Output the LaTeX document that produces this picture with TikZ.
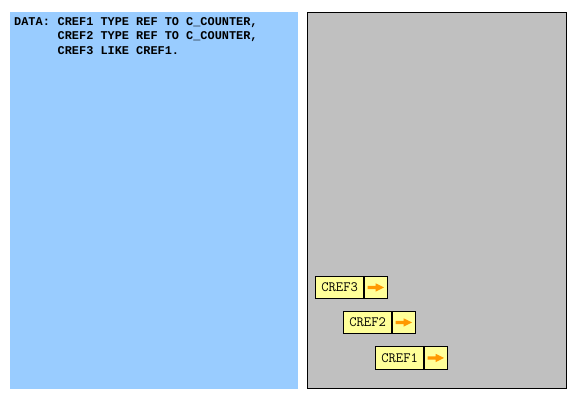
\documentclass[tikz,border=0pt]{standalone}
\usepackage{fontspec}
\newfontfamily\codefont{Liberation Mono}
\definecolor{panelblue}{HTML}{99CCFF}
\definecolor{panelgray}{HTML}{C0C0C0}
\definecolor{refyellow}{HTML}{FFFF99}
\definecolor{arroworange}{HTML}{FF9900}
\tikzset{
  codetext/.style={anchor=base west, inner sep=0,
    font=\codefont\bfseries\fontsize{11.9}{14.5}\selectfont},
  namecell/.style={draw=black, fill=refyellow, line width=0.8pt, inner sep=0,
    minimum width=47.6, minimum height=22.5, anchor=north west,
    font=\ttfamily\fontsize{14.2}{16}\selectfont},
  ptrcell/.style={draw=black, fill=refyellow, line width=0.8pt, inner sep=0,
    minimum width=23.6, minimum height=22.5, anchor=north west},
  ptrarrow/.style={fill=arroworange}
}
\begin{document}
\begin{tikzpicture}[x=1pt,y=-1pt]
\useasboundingbox (0,0) rectangle (573,400);
% panels
\fill[panelblue] (10,12) rectangle (298,389);
\filldraw[fill=panelgray, draw=black, line width=1pt] (307.5,12.5) rectangle (566.5,388.5);
% code
\node[codetext] (kw) at (14,25) {DATA:};
\node[codetext] (code1) at (57.5,25) {CREF1 TYPE REF TO C\_COUNTER,};
\node[codetext] (code2) at (57.5,39.5) {CREF2 TYPE REF TO C\_COUNTER,};
\node[codetext] (code3) at (57.5,54) {CREF3 LIKE CREF1.};
% reference boxes
\node[namecell] (n3) at (315.4,275.8) {CREF3};
\node[ptrcell] (p3) at (n3.north east) {};
\node[namecell] (n2) at (343.4,310.8) {CREF2};
\node[ptrcell] (p2) at (n2.north east) {};
\node[namecell] (n1) at (375.4,346.3) {CREF1};
\node[ptrcell] (p1) at (n1.north east) {};
\foreach \p in {p1,p2,p3}{
  \begin{scope}[shift={(\p.center)}]
    \fill[ptrarrow] (-8.5,-1.7) -- (-0.5,-1.7) -- (-0.5,-4.2) -- (8,0) -- (-0.5,4.2) -- (-0.5,1.7) -- (-8.5,1.7) -- cycle;
  \end{scope}
}
\end{tikzpicture}
\end{document}
